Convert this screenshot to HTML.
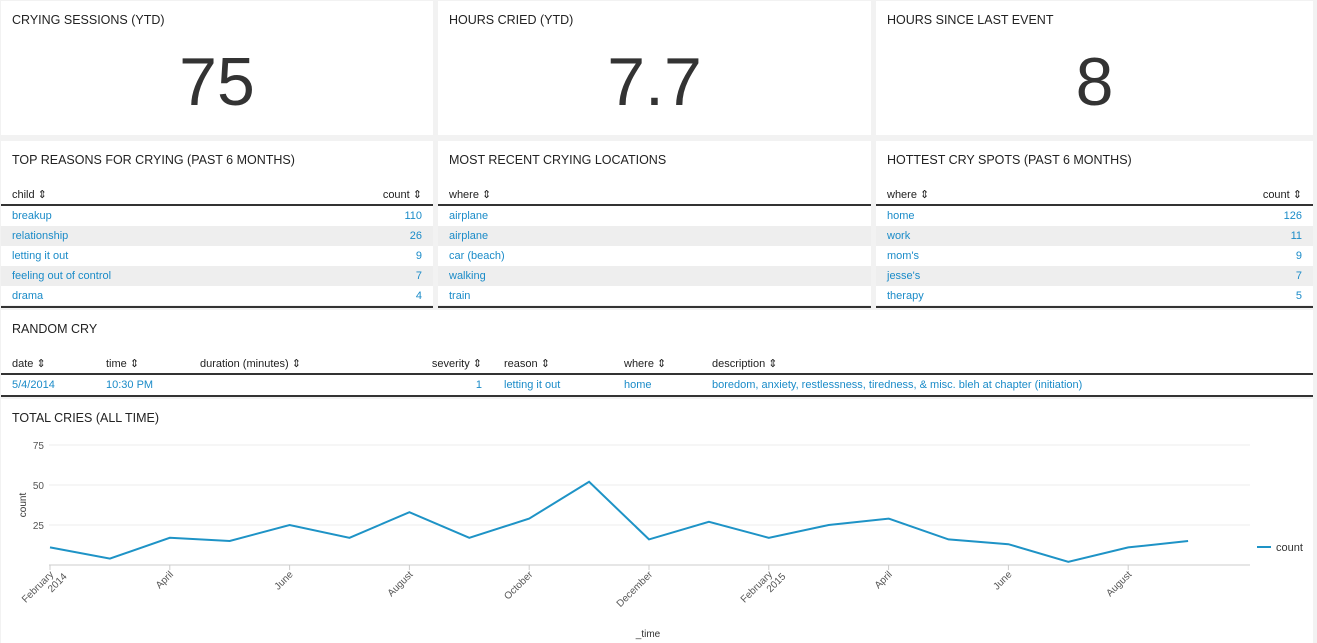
<!DOCTYPE html>
<html><head><meta charset="utf-8"><style>
body{margin:0;width:1317px;height:643px;background:#f2f2f2;font-family:"Liberation Sans",sans-serif;overflow:hidden;position:relative;color:#333}
.p{position:absolute;background:#fff}
.t{position:absolute;left:11px;top:12px;font-size:12.5px;color:#222}
.big{position:absolute;left:0;right:0;top:42px;text-align:center;font-size:68px;color:#333}
table{position:absolute;left:0;right:0;top:43px;width:100%;border-collapse:collapse;font-size:11px}
th{text-align:left;font-weight:normal;color:#222;height:20px;padding:0 11px;border-bottom:2px solid #333}
td{height:20px;padding:0 11px;color:#1a8bc8}
tr.a td{background:#eee}
table.b{border-bottom:2px solid #333}
.r{text-align:right}
svg text{font-family:"Liberation Sans",sans-serif}
</style></head><body>
<div class="p" style="left:1px;top:1px;width:432px;height:134px"><div class="t">CRYING SESSIONS (YTD)</div><div class="big">75</div></div>
<div class="p" style="left:438px;top:1px;width:433px;height:134px"><div class="t">HOURS CRIED (YTD)</div><div class="big">7.7</div></div>
<div class="p" style="left:876px;top:1px;width:437px;height:134px"><div class="t">HOURS SINCE LAST EVENT</div><div class="big">8</div></div>

<div class="p" style="left:1px;top:141px;width:432px;height:164px"><div class="t">TOP REASONS FOR CRYING (PAST 6 MONTHS)</div>
<table class="b"><tr><th>child ⇕</th><th class="r">count ⇕</th></tr>
<tr><td>breakup</td><td class="r">110</td></tr><tr class="a"><td>relationship</td><td class="r">26</td></tr><tr><td>letting it out</td><td class="r">9</td></tr><tr class="a"><td>feeling out of control</td><td class="r">7</td></tr><tr><td>drama</td><td class="r">4</td></tr></table></div>
<div class="p" style="left:438px;top:141px;width:433px;height:164px"><div class="t">MOST RECENT CRYING LOCATIONS</div>
<table class="b"><tr><th>where ⇕</th></tr>
<tr><td>airplane</td></tr><tr class="a"><td>airplane</td></tr><tr><td>car (beach)</td></tr><tr class="a"><td>walking</td></tr><tr><td>train</td></tr></table></div>
<div class="p" style="left:876px;top:141px;width:437px;height:164px"><div class="t">HOTTEST CRY SPOTS (PAST 6 MONTHS)</div>
<table class="b"><tr><th>where ⇕</th><th class="r">count ⇕</th></tr>
<tr><td>home</td><td class="r">126</td></tr><tr class="a"><td>work</td><td class="r">11</td></tr><tr><td>mom's</td><td class="r">9</td></tr><tr class="a"><td>jesse's</td><td class="r">7</td></tr><tr><td>therapy</td><td class="r">5</td></tr></table></div>

<div class="p" style="left:1px;top:310px;width:1312px;height:86px"><div class="t">RANDOM CRY</div>
<table class="b"><tr><th style="width:72px">date ⇕</th><th style="width:72px">time ⇕</th><th>duration (minutes) ⇕</th><th class="r" style="width:60px">severity ⇕</th><th style="width:98px">reason ⇕</th><th style="width:66px">where ⇕</th><th style="width:590px">description ⇕</th></tr>
<tr><td>5/4/2014</td><td>10:30 PM</td><td></td><td class="r">1</td><td>letting it out</td><td>home</td><td>boredom, anxiety, restlessness, tiredness, &amp; misc. bleh at chapter (initiation)</td></tr></table></div>

<div class="p" style="left:1px;top:399px;width:1312px;height:244px"><div class="t">TOTAL CRIES (ALL TIME)</div></div>
<svg id="chart" width="1317" height="643" style="position:absolute;left:0;top:0"></svg>
<script>
const counts=[11,4,17,15,25,17,33,17,29,52,16,27,17,25,29,16,13,2,11,15];
const tickLabels=[["February","2014"],["April"],["June"],["August"],["October"],["December"],["February","2015"],["April"],["June"],["August"]];
const tickIdx=[0,2,4,6,8,10,12,14,16,18];
const yTicks=[25,50,75];
const NS="http://www.w3.org/2000/svg";
const svg=document.getElementById('chart');
const x=i=>50+i*59.9, y=v=>565-v*1.6;
function mk(t,a){const e=document.createElementNS(NS,t);for(const k in a)e.setAttribute(k,a[k]);svg.appendChild(e);return e;}
yTicks.forEach(v=>{const g=mk('line',{x1:49,x2:1250,y1:y(v),y2:y(v),stroke:'#eee','stroke-width':1});


const t=mk('text',{x:44,y:y(v)+4,'text-anchor':'end','font-size':10,fill:'#555'});t.textContent=v;

});
const ax=mk('line',{x1:49,x2:1250,y1:565,y2:565,stroke:'#ccc'});


tickIdx.forEach((ti,k)=>{const tx=x(ti);mk('line',{x1:tx,x2:tx,y1:565,y2:570,stroke:'#ccc'});
const t=mk('text',{transform:`translate(${tx+4},575) rotate(-45)`,'text-anchor':'end','font-size':10,fill:'#555'});


tickLabels[k].forEach((s,j)=>{const sp=document.createElementNS(NS,'tspan');sp.setAttribute('x',j*8);sp.setAttribute('dy',j?11:0);sp.textContent=s;t.appendChild(sp);});});
const line=mk('polyline',{points:counts.map((v,i)=>x(i)+','+y(v)).join(' '),fill:'none',stroke:'#1e93c6','stroke-width':2});


const yt=mk('text',{transform:'translate(26,505) rotate(-90)','text-anchor':'middle','font-size':10,fill:'#333'});yt.textContent='count';


const xt=mk('text',{x:648,y:637,'text-anchor':'middle','font-size':10,fill:'#333'});xt.textContent='_time';


const ll=mk('line',{x1:1257,x2:1271,y1:547,y2:547,stroke:'#1e93c6','stroke-width':2});


const lt=mk('text',{x:1276,y:551,'font-size':11,fill:'#333'});lt.textContent='count';


</script>
</body></html>
